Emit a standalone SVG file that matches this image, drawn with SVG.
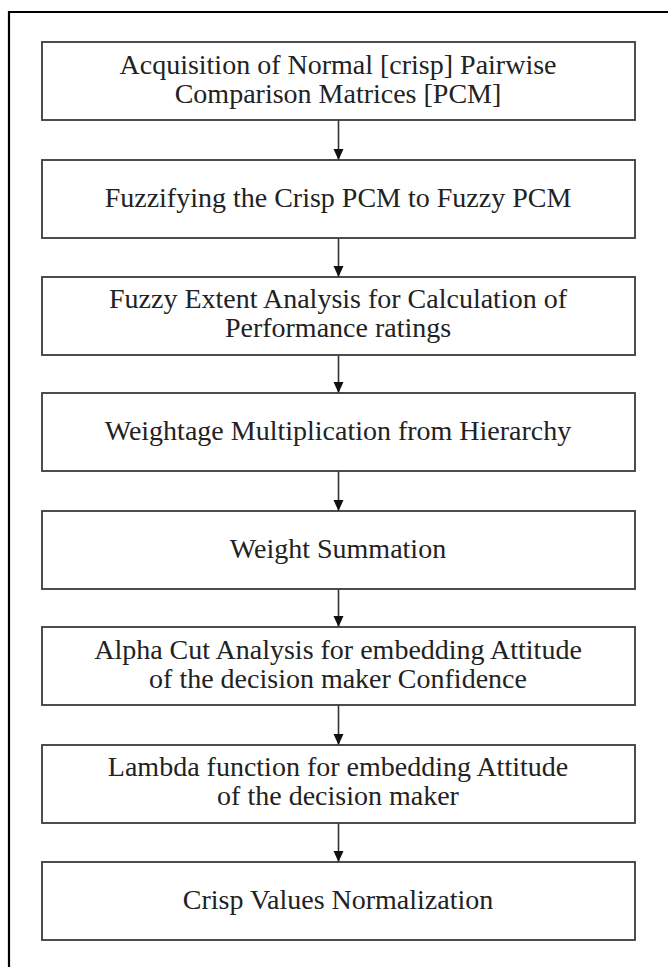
<svg xmlns="http://www.w3.org/2000/svg" width="668" height="967" viewBox="0 0 668 967">
<style>
.box rect{fill:#fff;stroke:#3a3a3a;stroke-width:1.8}
.box text{font-family:"Liberation Serif","Times New Roman",serif;font-size:28px;fill:#222;text-anchor:middle}
.conn line{stroke:#333;stroke-width:1.6;fill:none}
.frame{fill:none;stroke:#000;stroke-width:2.2}
</style>
<defs>
<marker id="arr" markerUnits="userSpaceOnUse" markerWidth="12" markerHeight="12" viewBox="0 0 12 12" refX="11" refY="6" orient="auto">
<path d="M0,1 L11,6 L0,11 Z" fill="#111"/>
</marker>
</defs>
<rect width="668" height="967" fill="#fff"/>
<path class="frame" d="M9,967 V12 H668"/>
<g class="conn">
<line x1="338.5" y1="120" x2="338.5" y2="160" marker-end="url(#arr)"/>
<line x1="338.5" y1="238" x2="338.5" y2="277" marker-end="url(#arr)"/>
<line x1="338.5" y1="355" x2="338.5" y2="393" marker-end="url(#arr)"/>
<line x1="338.5" y1="471" x2="338.5" y2="511" marker-end="url(#arr)"/>
<line x1="338.5" y1="589" x2="338.5" y2="627" marker-end="url(#arr)"/>
<line x1="338.5" y1="705" x2="338.5" y2="745" marker-end="url(#arr)"/>
<line x1="338.5" y1="823" x2="338.5" y2="862" marker-end="url(#arr)"/>
</g>
<g id="n1" class="box"><rect x="42" y="42" width="593" height="78"/>
<text x="338" y="74">Acquisition of Normal [crisp] Pairwise</text>
<text x="338" y="103">Comparison Matrices [PCM]</text></g>
<g id="n2" class="box"><rect x="42" y="160" width="593" height="78"/>
<text x="338" y="207">Fuzzifying the Crisp PCM to Fuzzy PCM</text></g>
<g id="n3" class="box"><rect x="42" y="277" width="593" height="78"/>
<text x="338" y="308">Fuzzy Extent Analysis for Calculation of</text>
<text x="338" y="337">Performance ratings</text></g>
<g id="n4" class="box"><rect x="42" y="393" width="593" height="78"/>
<text x="338" y="440">Weightage Multiplication from Hierarchy</text></g>
<g id="n5" class="box"><rect x="42" y="511" width="593" height="78"/>
<text x="338" y="558">Weight Summation</text></g>
<g id="n6" class="box"><rect x="42" y="627" width="593" height="78"/>
<text x="338" y="659">Alpha Cut Analysis for embedding Attitude</text>
<text x="338" y="688">of the decision maker Confidence</text></g>
<g id="n7" class="box"><rect x="42" y="745" width="593" height="78"/>
<text x="338" y="776">Lambda function for embedding Attitude</text>
<text x="338" y="805">of the decision maker</text></g>
<g id="n8" class="box"><rect x="42" y="862" width="593" height="78"/>
<text x="338" y="909">Crisp Values Normalization</text></g>
</svg>
